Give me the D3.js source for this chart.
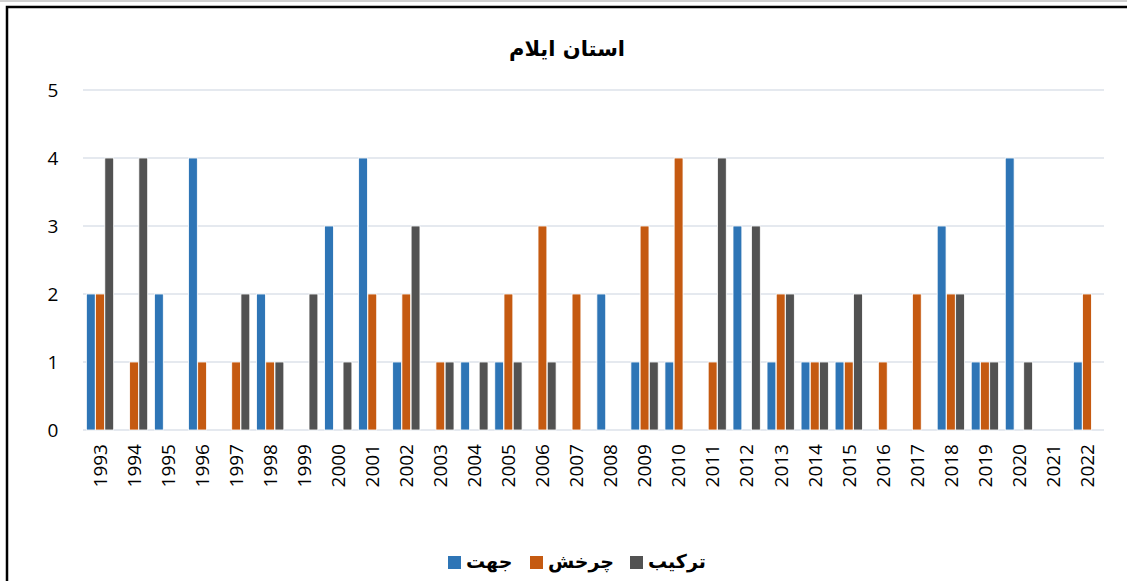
<!DOCTYPE html>
<html>
<head>
<meta charset="utf-8">
<style>
  body { margin: 0; background: #fff; }
  .axis .domain { display: none; }
  .axis line { display: none; }
</style>
</head>
<body>
<svg width="1127" height="581"></svg>
<script src="https://cdn.jsdelivr.net/npm/d3@7"></script>
<script>
// values, one per year
var years = ["1993","1994","1995","1996","1997","1998","1999","2000","2001","2002",
             "2003","2004","2005","2006","2007","2008","2009","2010","2011","2012",
             "2013","2014","2015","2016","2017","2018","2019","2020","2021","2022"];
var jahat    = [2,0,2,4,0,2,0,3,4,1, 0,1,1,0,0,2,1,1,0,3, 1,1,1,0,0,3,1,4,0,1];
var charkhesh= [2,1,0,1,1,1,0,0,2,2, 1,0,2,3,2,0,3,4,1,0, 2,1,1,1,2,2,1,0,0,2];
var tarkib   = [4,4,0,0,2,1,2,1,0,3, 1,1,1,1,0,0,1,0,4,3, 2,1,2,0,0,2,1,1,0,0];
var seriesNames = ["جهت", "چرخش", "ترکیب"];
var yTicks = [0,1,2,3,4,5];

var colors = ["#2e75b6", "#c55a11", "#525252"];
var seriesVals = [jahat, charkhesh, tarkib];

var svg = d3.select("svg");
var margin = {top: 90, left: 83, right: 23, bottom: 151};
var width = 1127 - margin.left - margin.right,
    height = 581 - margin.top - margin.bottom;

// top strip + frame
svg.append("rect").attr("x", 0).attr("y", 0).attr("width", 1127).attr("height", 2).attr("fill", "#d0d0d0");
svg.append("path").attr("d", "M7,581V7H1127").attr("fill", "none").attr("stroke", "#000").attr("stroke-width", 2.5);

var g = svg.append("g").attr("transform", "translate(" + margin.left + "," + margin.top + ")");

var x = d3.scaleBand().domain(years).range([0, width]).paddingInner(0).paddingOuter(0);
var xs = d3.scaleBand().domain([0,1,2]).range([3, x.bandwidth() - 3]).padding(0.04);
var y = d3.scaleLinear().domain([0, 5]).range([height, 0]);

// gridlines
g.selectAll(".grid").data(yTicks).enter().append("line")
  .attr("x1", 0).attr("x2", width)
  .attr("y1", function(d) { return y(d); }).attr("y2", function(d) { return y(d); })
  .attr("stroke", "#dde2ea").attr("stroke-width", 1.5);

// y labels
g.selectAll(".ylab").data(yTicks).enter().append("text")
  .attr("x", -30).attr("y", function(d) { return y(d); }).attr("dy", "0.36em")
  .attr("text-anchor", "middle")
  .style("font-family", "Open Sans, Liberation Sans, sans-serif").style("font-size", "19px")
  .text(function(d) { return d; });

// bars
var rows = [];
years.forEach(function(yr, i) {
  seriesVals.forEach(function(vals, s) {
    if (vals[i] > 0) rows.push({year: yr, s: s, v: vals[i]});
  });
});
g.selectAll("rect.bar").data(rows).enter().append("rect")
  .attr("class", "bar")
  .attr("x", function(d) { return x(d.year) + xs(d.s); })
  .attr("y", function(d) { return y(d.v); })
  .attr("width", xs.bandwidth())
  .attr("height", function(d) { return height - y(d.v); })
  .attr("fill", function(d) { return colors[d.s]; })
  .attr("stroke", "#fff").attr("stroke-width", 0.8);

// x axis
var xAxis = g.append("g").attr("class", "axis")
  .attr("transform", "translate(0," + height + ")")
  .call(d3.axisBottom(x).tickSize(0));
xAxis.selectAll("text")
  .style("font-family", "Open Sans, Liberation Sans, sans-serif").style("font-size", "19px")
  .attr("fill", "#000")
  .style("text-anchor", "end")
  .attr("x", -14).attr("y", 0).attr("dy", "0.36em")
  .attr("transform", "rotate(-90)");

// title
svg.append("text").attr("x", 567).attr("y", 56).attr("text-anchor", "middle")
  .style("font-family", "DejaVu Sans, sans-serif").style("font-weight", "bold").style("font-size", "21px")
  .text("استان ایلام");

// legend
var legX = [448, 530, 630];
var leg = svg.append("g").selectAll("g").data(seriesNames).enter().append("g")
  .attr("transform", function(d, i) { return "translate(" + legX[i] + ",556)"; });
leg.append("rect").attr("width", 13).attr("height", 13).attr("fill", function(d, i) { return colors[i]; });
leg.append("text").attr("x", 18).attr("y", 12)
  .style("font-family", "DejaVu Sans, sans-serif").style("font-weight", "bold").style("font-size", "19px")
  .attr("direction", "rtl").attr("text-anchor", "end")
  .text(function(d) { return d; });
</script>
</body>
</html>
